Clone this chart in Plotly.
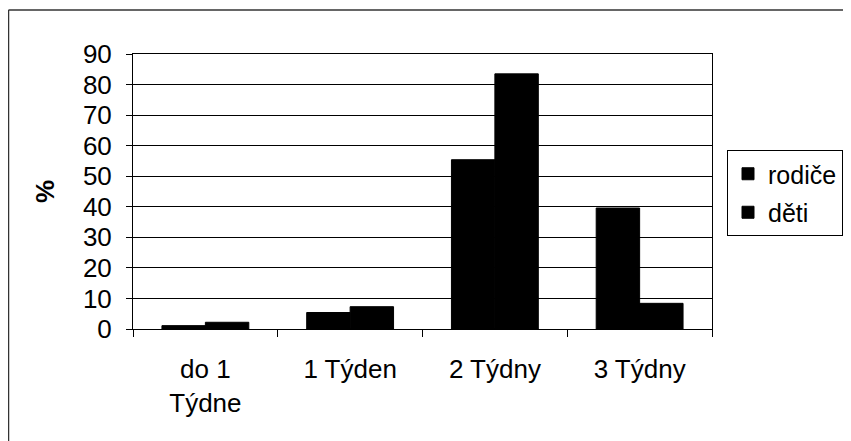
import plotly.graph_objects as go

categories = ["do 1<br>Týdne", "1 Týden", "2 Týdny", "3 Týdny"]
rodice = [1.1, 5.4, 55.4, 39.6]
deti = [2.2, 7.3, 83.5, 8.4]
series_names = ["rodiče", "děti"]
y_ticks = [0, 10, 20, 30, 40, 50, 60, 70, 80, 90]

# page has an 8px body margin: the figure starts at page (8, 8)
OFF = 8
W, H = 851 - OFF, 441 - OFF
L, R, T, B = 133 - OFF, 851 - 712, 54 - OFF, 441 - 329
pw, ph = W - L - R, H - T - B

def px_x(x):
    return (x - OFF - L) / pw

def px_y(y):
    return (H - B - (y - OFF)) / ph

fig = go.Figure()
for i, (name, vals) in enumerate(zip(series_names, [rodice, deti])):
    fig.add_trace(go.Bar(
        x=categories, y=vals, name=name, legendgroup=f"g{i}",
        marker=dict(color="black", line=dict(color="black", width=1)),
    ))

FAM = "Liberation Sans, Arial, sans-serif"
font = dict(family=FAM, size=26, color="black")

fig.update_layout(
    width=W, height=H,
    margin=dict(l=L, r=R, t=T, b=B, autoexpand=False),
    paper_bgcolor="white", plot_bgcolor="white",
    barmode="group", bargap=0.4, bargroupgap=0,
    font=font,
    showlegend=True,
    legend=dict(
        xref="container", yref="container",
        x=(727 - OFF) / W, y=1 - (150 - OFF) / H, xanchor="left", yanchor="top",
        bordercolor="black", borderwidth=1, bgcolor="white",
        font=dict(family=FAM, size=25, color="black"),
        itemwidth=30, traceorder="grouped", tracegroupgap=3,
    ),
    xaxis=dict(
        type="category", tickson="boundaries", ticks="outside", ticklen=7,
        tickcolor="black", showline=True, linecolor="black", linewidth=1,
        mirror=True, showgrid=False, ticklabelstandoff=17,
    ),
    yaxis=dict(
        range=[0, 90], tickvals=y_ticks, ticks="outside", ticklen=6,
        tickcolor="black", showline=True, linecolor="black", linewidth=1,
        mirror=True, showgrid=True, gridcolor="black", gridwidth=1,
        zeroline=False, ticklabelstandoff=9,
        title=dict(text="<b>%</b>", standoff=20, font=dict(size=26)),
    ),
    shapes=[
        dict(type="line", xref="paper", yref="paper",
             x0=px_x(8.5), y0=px_y(441), x1=px_x(8.5), y1=px_y(10),
             line=dict(color="#333", width=1.5)),
        dict(type="line", xref="paper", yref="paper",
             x0=px_x(8.5), y0=px_y(10), x1=px_x(851), y1=px_y(10),
             line=dict(color="#333", width=1.5)),
    ],
)

fig.write_html("out.html")
